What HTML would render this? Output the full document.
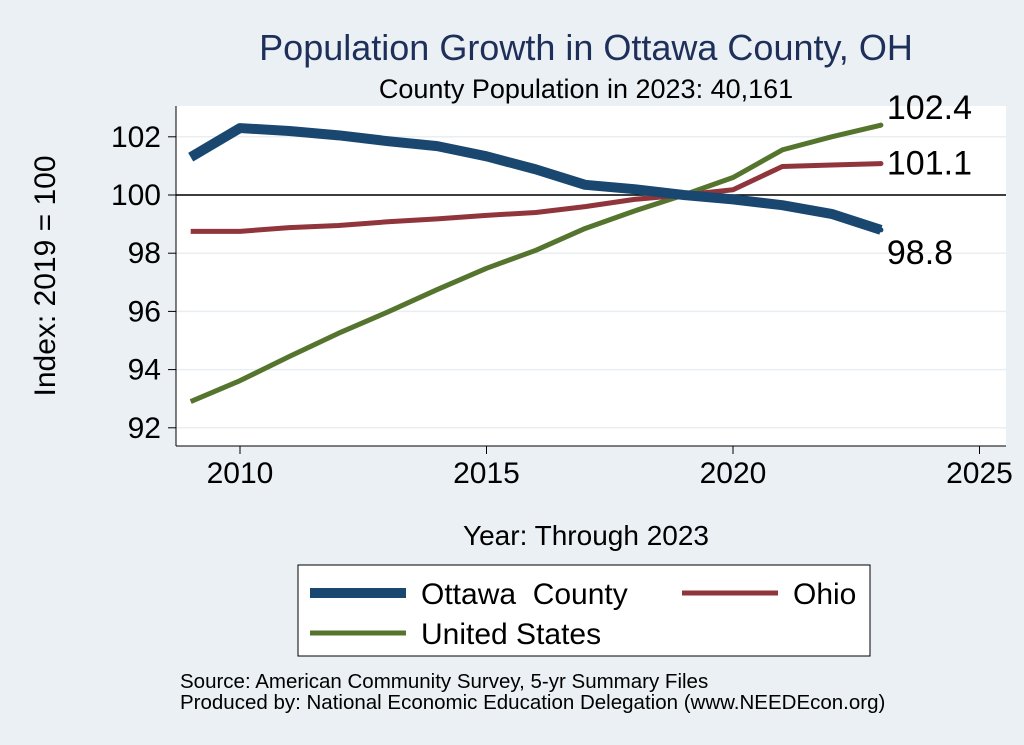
<!DOCTYPE html>
<html><head><meta charset="utf-8"><style>
body{margin:0;background:#eaf0f3;font-family:"Liberation Sans",sans-serif;}
svg{display:block}
</style></head><body>
<svg width="1024" height="745" viewBox="0 0 1024 745">
<rect width="1024" height="745" fill="#eaf0f3"/>
<rect x="176" y="106" width="830" height="340" fill="#fff"/>
<text x="586" y="60" font-size="36" fill="#1e2f5a" text-anchor="middle">Population Growth in Ottawa County, OH</text>
<text x="586" y="98" font-size="27" fill="#000" text-anchor="middle">County Population in 2023: 40,161</text>
<g id="grid"></g>
<g id="axes"></g>
<g id="lines"></g>
<text x="55" y="276" font-size="30" text-anchor="middle" transform="rotate(-90 55 276)">Index: 2019 = 100</text>
<text x="586" y="545" font-size="28" text-anchor="middle">Year: Through 2023</text>
<g>
<rect x="298" y="565" width="572" height="91" fill="#fff" stroke="#000" stroke-width="1"/>
<line x1="310" y1="593" x2="406" y2="593" stroke="#1a476f" stroke-width="10"/>
<text x="421" y="604" font-size="30" xml:space="preserve" style="white-space:pre">Ottawa  County</text>
<line x1="682" y1="593" x2="778" y2="593" stroke="#90353b" stroke-width="5"/>
<text x="793" y="604" font-size="30">Ohio</text>
<line x1="310" y1="633" x2="406" y2="633" stroke="#55752f" stroke-width="5"/>
<text x="421" y="644" font-size="30">United States</text>
</g>
<text x="180" y="688" font-size="20.5">Source: American Community Survey, 5-yr Summary Files</text>
<text x="180" y="709" font-size="20.5">Produced by: National Economic Education Delegation (www.NEEDEcon.org)</text>
</svg>
<script>
const years=[2009,2010,2011,2012,2013,2014,2015,2016,2017,2018,2019,2020,2021,2022,2023];
const ottawa=[101.3,102.3,102.2,102.05,101.85,101.68,101.33,100.88,100.35,100.2,100,99.85,99.65,99.35,98.8];
const ohio=[98.75,98.75,98.88,98.95,99.08,99.18,99.3,99.4,99.6,99.85,100,100.18,100.98,101.03,101.08];
const us=[92.9,93.62,94.45,95.25,95.98,96.75,97.48,98.1,98.85,99.45,100,100.6,101.55,102.0,102.4];
const yTicks=[92,94,96,98,100,102];
const xTicks=[2010,2015,2020,2025];
const X=v=>240+(v-2010)*49.3;
const Y=v=>195-(v-100)*29.1;
const NS="http://www.w3.org/2000/svg";
function mk(t,a,p){const e=document.createElementNS(NS,t);for(const k in a)e.setAttribute(k,a[k]);p.appendChild(e);return e;}
const grid=document.getElementById('grid'),axes=document.getElementById('axes'),lines=document.getElementById('lines');
yTicks.forEach(v=>{
 const g=mk('line',{x1:176,x2:1006,y1:Y(v),y2:Y(v),stroke:'#e8eef1','stroke-width':1.5},grid);
 
 
 const t=mk('line',{x1:168,x2:176,y1:Y(v),y2:Y(v),stroke:'#000'},axes);
 
 
 const l=mk('text',{x:161,y:Y(v)+10,'font-size':30,'text-anchor':'end'},axes);l.textContent=v;
 
 
});
mk('line',{x1:176,x2:1006,y1:Y(100),y2:Y(100),stroke:'#000','stroke-width':1.5},grid);
mk('line',{x1:176,x2:176,y1:106,y2:446,stroke:'#000'},axes);
mk('line',{x1:176,x2:1006,y1:446,y2:446,stroke:'#000'},axes);
xTicks.forEach(v=>{
 const t=mk('line',{x1:X(v),x2:X(v),y1:446,y2:454,stroke:'#000'},axes);
 
 
 const l=mk('text',{x:X(v),y:483,'font-size':30,'text-anchor':'middle'},axes);l.textContent=v;
 
 
});
function series(vals,color,w,name,dy){
 const d=vals.map((v,i)=>(i?'L':'M')+X(years[i])+' '+Y(v)).join(' ');
 const p=mk('path',{d:d,fill:'none',stroke:color,'stroke-width':w,'stroke-linejoin':'round'},lines);
 
 
 const last=vals[vals.length-1];
 mk('circle',{cx:X(2023),cy:Y(last),r:2.5,fill:color},lines);
 const t=mk('text',{x:X(2023)+6,y:Y(last)+dy,'font-size':34},lines);t.textContent=last.toFixed(1);
 
 
}
series(us,'#55752f',5,'us',-6);
series(ohio,'#90353b',5,'ohio',11);
series(ottawa,'#1a476f',10,'ottawa',34);
</script>
</body></html>
